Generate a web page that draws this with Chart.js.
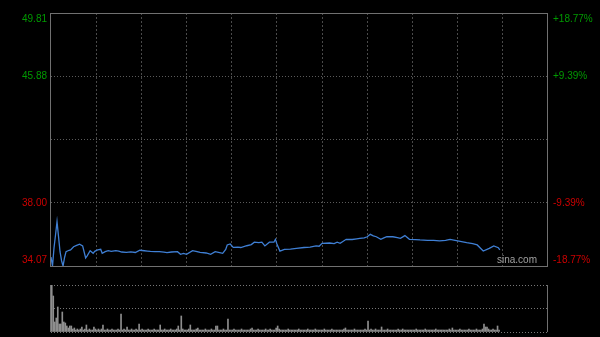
<!DOCTYPE html>
<html>
<head>
<meta charset="utf-8">
<style>
  html, body { margin: 0; padding: 0; background: #000; }
  #wrap { position: relative; width: 600px; height: 337px; background: #000; }
  #priceChart { position: absolute; left: 0; top: 0; }
  #volChart { position: absolute; left: 0; top: 280px; }
</style>
</head>
<body>
<div id="wrap">
  <canvas id="priceChart" width="600" height="280"></canvas>
  <canvas id="volChart" width="600" height="57"></canvas>
</div>
<script src="https://cdn.jsdelivr.net/npm/chart.js"></script>
<script>
// session minutes from open (HK: 09:30-12:00, 13:00-16:00 = 330 min)
const sessionMinutes = 330;
const prevClose = 41.94;
const priceMin = 34.07;
const priceMax = 49.81;

const priceTicks = [49.81, 45.88, 38.00, 34.07];
const priceLabels = ['49.81', '45.88', '38.00', '34.07'];
const pctLabels = ['+18.77%', '+9.39%', '-9.39%', '-18.77%'];
const timeGrid = [30, 60, 90, 120, 150, 180, 210, 240, 270, 300];

const priceMinutes = [0, 1, 2, 3, 4, 5, 6, 7, 8, 9, 10, 12, 13, 15, 17, 19, 21, 23, 24, 26,
  28, 29, 31, 33, 34, 36, 38, 40, 43, 45, 47, 50, 53, 56, 59, 62, 64, 66, 69, 72,
  75, 77, 80, 84, 86, 88, 90, 94, 97, 99, 103, 106, 109, 112, 114, 116, 117, 119, 121, 124,
  126, 130, 133, 135, 138, 140, 142, 145, 148, 149, 150, 152, 155, 159, 163, 168, 172, 176, 178, 180,
  185, 188, 190, 192, 196, 200, 203, 205, 208, 210, 212, 214, 216, 219, 221, 223, 227, 230, 232, 235,
  238, 242, 245, 250, 254, 258, 262, 265, 270, 276, 280, 283, 287, 291, 294, 297, 298];
const prices = [34.63, 34.07, 35.20, 36.00, 36.83, 35.90, 34.96, 34.40, 34.07, 34.60, 34.96, 35.05, 35.07, 35.27, 35.35, 35.43, 35.32, 34.57, 34.70, 35.02,
  34.86, 34.98, 35.07, 35.11, 34.86, 34.96, 35.02, 34.98, 35.03, 34.99, 34.94, 34.92, 34.95, 34.91, 35.05, 35.02, 35.00, 34.98, 34.97, 34.96,
  34.93, 34.90, 34.94, 34.96, 34.80, 34.85, 34.80, 35.02, 34.96, 34.92, 34.88, 34.80, 34.96, 34.90, 34.86, 35.10, 35.38, 35.44, 35.23, 35.25,
  35.22, 35.33, 35.40, 35.55, 35.52, 35.55, 35.32, 35.55, 35.55, 35.73, 35.44, 35.00, 35.11, 35.12, 35.17, 35.22, 35.25, 35.32, 35.30, 35.48,
  35.50, 35.46, 35.55, 35.48, 35.73, 35.72, 35.76, 35.79, 35.82, 35.89, 36.04, 35.94, 35.89, 35.73, 35.82, 35.89, 35.89, 35.83, 35.79, 35.96,
  35.73, 35.71, 35.69, 35.67, 35.66, 35.63, 35.66, 35.73, 35.64, 35.52, 35.46, 35.38, 35.00, 35.17, 35.32, 35.21, 35.07];

// per-minute volume, relative units (first minute = axis max)
const volumes = [
  47, 36, 10, 14, 25, 8, 8, 20, 10, 9, 6, 4, 6, 6, 3, 4, 2, 3, 2, 3, 5, 2, 3, 7, 2, 3, 2, 2, 5, 3,
  2, 3, 2, 3, 7, 2, 2, 3, 2, 2, 3, 2, 2, 2, 3, 2, 18, 2, 3, 2, 5, 2, 2, 3, 2, 2, 3, 2, 8, 2,
  3, 2, 2, 2, 3, 2, 2, 2, 3, 2, 2, 2, 7, 2, 2, 3, 2, 2, 2, 3, 2, 2, 2, 3, 6, 2, 16, 3, 2, 2,
  2, 3, 7, 2, 2, 2, 3, 4, 2, 2, 2, 2, 3, 2, 2, 2, 3, 2, 2, 6, 6, 2, 2, 2, 3, 2, 2, 13, 2, 2,
  2, 3, 2, 2, 2, 2, 3, 2, 2, 2, 2, 2, 3, 4, 2, 2, 2, 3, 2, 2, 2, 2, 3, 2, 2, 3, 2, 2, 2, 4,
  6, 3, 2, 2, 2, 2, 2, 3, 2, 2, 2, 2, 2, 2, 3, 2, 2, 2, 2, 2, 3, 2, 2, 2, 2, 3, 2, 2, 2, 2,
  2, 3, 2, 2, 2, 2, 3, 2, 2, 2, 2, 2, 2, 2, 3, 4, 2, 2, 2, 2, 2, 3, 2, 2, 2, 2, 2, 2, 3, 2,
  11, 2, 3, 2, 2, 3, 2, 2, 2, 5, 2, 2, 2, 3, 2, 2, 2, 2, 2, 2, 3, 2, 2, 3, 2, 2, 2, 2, 2, 2,
  2, 2, 3, 2, 2, 2, 2, 2, 3, 2, 2, 2, 2, 2, 2, 3, 2, 2, 2, 2, 2, 2, 2, 2, 3, 2, 4, 2, 2, 2,
  2, 3, 2, 2, 2, 2, 2, 3, 2, 2, 2, 2, 3, 2, 2, 2, 3, 8, 5, 5, 3, 2, 2, 3, 2, 2, 6, 2];
const volMax = 47;

const FONT = '10px "Liberation Sans", Arial, sans-serif';
const GREEN = '#009a00';
const RED = '#cc0000';
const FRAME = '#707070';

// draws the frame, side labels and the watermark of the price panel
const pricePanel = {
  id: 'pricePanel',
  beforeDatasetsDraw(chart) {
    const { ctx, chartArea: a } = chart;
    ctx.save();
    ctx.strokeStyle = FRAME;
    ctx.lineWidth = 1;
    ctx.strokeRect(Math.round(a.left) - 0.5, Math.round(a.top) + 0.5, Math.round(a.right - a.left), Math.round(a.bottom - a.top));
    ctx.font = FONT;
    ctx.textBaseline = 'middle';
    const y = chart.scales.y;
    priceTicks.forEach((v, i) => {
      let py = y.getPixelForValue(v);
      py = Math.min(Math.max(py, a.top + 6), a.bottom - 6);
      ctx.fillStyle = v > prevClose ? GREEN : RED;
      ctx.textAlign = 'right';
      ctx.fillText(priceLabels[i], a.left - 4, py);
      ctx.textAlign = 'left';
      ctx.fillText(pctLabels[i], a.right + 5, py);
    });
    ctx.fillStyle = '#a0a0a0';
    ctx.textAlign = 'right';
    ctx.fillText('sina.com', a.right - 11, a.bottom - 6);
    ctx.restore();
  }
};

const volPanel = {
  id: 'volPanel',
  afterDraw(chart) {
    const { ctx, chartArea: a } = chart;
    ctx.save();
    ctx.strokeStyle = FRAME;
    ctx.lineWidth = 1;
    ctx.beginPath();
    ctx.moveTo(Math.round(a.left) - 0.5, a.top);
    ctx.lineTo(Math.round(a.left) - 0.5, a.bottom);
    ctx.moveTo(Math.round(a.right) - 0.5, a.top);
    ctx.lineTo(Math.round(a.right) - 0.5, a.bottom);
    ctx.stroke();
    ctx.restore();
  }
};

const xAxis = (h, showGrid) => ({
  type: 'linear',
  min: 0,
  max: sessionMinutes,
  offset: false,
  afterBuildTicks: (s) => { s.ticks = timeGrid.map((v) => ({ value: v })); },
  afterFit: (s) => { s.height = h; },
  ticks: { display: false },
  grid: { display: showGrid, color: '#4a4a4a', drawTicks: false, lineWidth: 1, offset: false },
  border: { display: false, dash: [2, 2] }
});

new Chart(document.getElementById('priceChart'), {
  type: 'line',
  data: {
    datasets: [{
      data: priceMinutes.map((m, i) => ({ x: m, y: prices[i] })),
      borderColor: '#3f7fd4',
      borderWidth: 1.3,
      pointRadius: 0,
      tension: 0,
      fill: false
    }]
  },
  plugins: [pricePanel],
  options: {
    responsive: false,
    devicePixelRatio: 1,
    animation: false,
    layout: { padding: { top: 13, left: 0, right: 0, bottom: 0 } },
    plugins: { legend: { display: false }, tooltip: { enabled: false } },
    scales: {
      x: xAxis(14, true),
      y: {
        position: 'left',
        min: priceMin,
        max: priceMax,
        afterBuildTicks: (s) => { s.ticks = [38.00, prevClose, 45.88].map((v) => ({ value: v })); },
        afterFit: (s) => { s.width = 51; },
        ticks: { display: false },
        grid: { color: '#5a5a5a', drawTicks: false },
        border: { display: false, dash: [1, 2] }
      },
      y1: {
        position: 'right',
        min: -18.77,
        max: 18.77,
        afterFit: (s) => { s.width = 52; },
        ticks: { display: false },
        grid: { display: false },
        border: { display: false }
      }
    }
  }
});

new Chart(document.getElementById('volChart'), {
  type: 'bar',
  data: {
    datasets: [{
      data: volumes.map((v, i) => ({ x: i + 0.5, y: v })),
      backgroundColor: '#8e8e8e',
      barThickness: 1,
      borderWidth: 0
    }]
  },
  plugins: [volPanel],
  options: {
    responsive: false,
    devicePixelRatio: 1,
    animation: false,
    layout: { padding: { top: 5, left: 0, right: 0, bottom: 0 } },
    plugins: { legend: { display: false }, tooltip: { enabled: false } },
    scales: {
      x: xAxis(5, false),
      y: {
        position: 'left',
        min: 0,
        max: volMax,
        afterBuildTicks: (s) => { s.ticks = [0, volMax / 2, volMax].map((v) => ({ value: v })); },
        afterFit: (s) => { s.width = 51; },
        ticks: { display: false },
        grid: { color: '#777777', drawTicks: false },
        border: { display: false, dash: [1, 2] }
      },
      y1: {
        position: 'right',
        afterFit: (s) => { s.width = 52; },
        ticks: { display: false },
        grid: { display: false },
        border: { display: false }
      }
    }
  }
});
</script>
</body>
</html>
